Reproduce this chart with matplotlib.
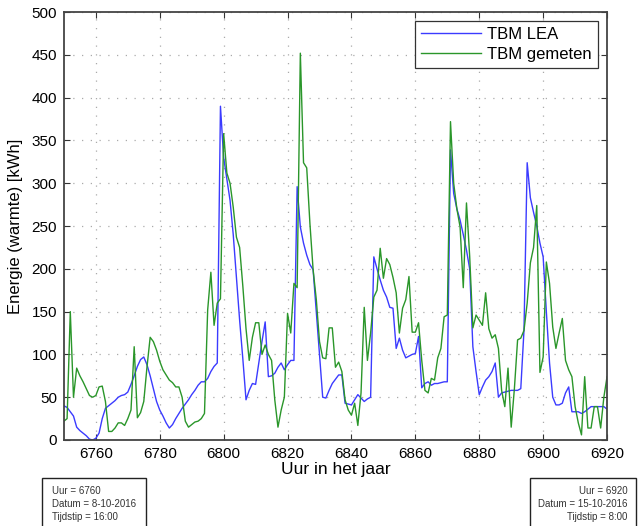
import numpy as np
import matplotlib
matplotlib.use("Agg")
import matplotlib.pyplot as plt
from matplotlib.patches import Rectangle

plt.rcParams['font.family'] = ['Liberation Sans', 'DejaVu Sans']

# uurwaarden, uur 6750 t/m 6920
uren = np.arange(6750, 6921)

tbm_lea = [
    40, 38, 33, 28, 15, 11, 8, 5, 1, 0,            # 6750-6759
    2, 8, 25, 37, 40, 43, 46, 50, 52, 53,          # 6760-6769
    56, 65, 75, 86, 94, 97, 88, 75, 60, 45,        # 6770-6779
    35, 28, 20, 14, 18, 25, 31, 37, 42, 47,        # 6780-6789
    53, 58, 64, 68, 68, 72, 80, 86, 90, 390,       # 6790-6799
    330, 305, 280, 240, 190, 140, 95, 47, 58, 66,  # 6800-6809
    65, 90, 115, 138, 74, 75, 78, 85, 90, 82,      # 6810-6819
    88, 93, 93, 296, 249, 230, 216, 205, 199, 150, # 6820-6829
    100, 50, 49, 58, 66, 71, 76, 76, 43, 42,       # 6830-6839
    41, 47, 53, 49, 45, 48, 50, 214, 200, 187,     # 6840-6849
    175, 167, 155, 154, 107, 119, 105, 96, 98, 100, # 6850-6859
    101, 121, 61, 66, 68, 64, 66, 66, 67, 68,      # 6860-6869
    68, 339, 288, 270, 257, 240, 222, 200, 109, 80, # 6870-6879
    53, 62, 70, 74, 80, 90, 50, 55, 56, 57,        # 6880-6889
    58, 58, 58, 60, 128, 324, 283, 266, 250, 230,  # 6890-6899
    214, 150, 90, 50, 41, 41, 43, 55, 62, 33,      # 6900-6909
    33, 33, 31, 33, 36, 39, 39, 39, 39, 39,        # 6910-6919
    36,                                            # 6920
]

tbm_gemeten = [
    22, 25, 150, 50, 84, 75, 68, 60, 52, 50,       # 6750-6759
    52, 62, 63, 45, 10, 10, 14, 20, 20, 17,        # 6760-6769
    25, 35, 109, 26, 32, 45, 85, 120, 115, 105,    # 6770-6779
    92, 82, 76, 70, 67, 62, 62, 50, 22, 15,        # 6780-6789
    18, 21, 22, 25, 31, 152, 196, 134, 160, 165,   # 6790-6799
    358, 312, 300, 272, 237, 225, 180, 130, 93, 120, # 6800-6809
    137, 137, 100, 111, 100, 93, 47, 15, 35, 50,   # 6810-6819
    148, 125, 183, 178, 452, 324, 318, 253, 199, 164, # 6820-6829
    115, 96, 95, 131, 131, 85, 91, 80, 47, 35,     # 6830-6839
    29, 43, 17, 55, 155, 93, 125, 167, 175, 224,   # 6840-6849
    189, 212, 205, 190, 172, 125, 154, 164, 191, 126, # 6850-6859
    126, 137, 93, 58, 55, 72, 70, 96, 107, 144,    # 6860-6869
    146, 372, 300, 270, 249, 178, 277, 215, 131, 146, # 6870-6879
    140, 134, 172, 130, 119, 123, 107, 58, 39, 84, # 6880-6889
    15, 60, 117, 119, 128, 160, 207, 225, 274, 79, # 6890-6899
    97, 208, 183, 132, 107, 125, 142, 93, 82, 74,  # 6900-6909
    39, 20, 6, 74, 14, 14, 39, 39, 14, 50,         # 6910-6919
    74,                                            # 6920
]

xticks = [6760, 6780, 6800, 6820, 6840, 6860, 6880, 6900, 6920]
yticks = [0, 50, 100, 150, 200, 250, 300, 350, 400, 450, 500]

begin_info = ["Uur = 6760", "Datum = 8-10-2016", "Tijdstip = 16:00"]
eind_info = ["Uur = 6920", "Datum = 15-10-2016", "Tijdstip = 8:00"]

fig = plt.figure(figsize=(6.39, 5.26), dpi=100)
ax = fig.add_axes([0.100, 0.1635, 0.850, 0.8135])

ax.plot(uren, tbm_lea, color='#3b3bff', lw=1.0, label='TBM LEA')
ax.plot(uren, tbm_gemeten, color='#2a962a', lw=1.0, label='TBM gemeten')

ax.set_xlim(6750, 6920)
ax.set_ylim(0, 500)
ax.set_xticks(xticks)
ax.set_yticks(yticks)
ax.tick_params(direction='in', top=True, right=True, labelsize=11,
               length=4, width=0.8, color='#333333', pad=5)
for s in ax.spines.values():
    s.set_color('#444444')
    s.set_linewidth(1.3)
ax.grid(True, linestyle=(0, (1, 6)), color='#aaaaaa', lw=0.9)

ax.set_xlabel('Uur in het jaar', fontsize=12.5, labelpad=1)
ax.set_ylabel('Energie (warmte) [kWh]', fontsize=12, labelpad=6)

leg = ax.legend(loc='upper right', fontsize=12, handlelength=3.6,
                fancybox=False, framealpha=1, edgecolor='#333333',
                borderpad=0.35, labelspacing=0.3, handletextpad=0.4,
                borderaxespad=0.55)
leg.get_frame().set_linewidth(0.9)

# kaders met begin- en eindtijdstip onder de grafiek
fig.patches.append(Rectangle((0.066, -0.05), 0.163, 0.141, transform=fig.transFigure,
                             fill=False, edgecolor='#222222', lw=1.0, figure=fig))
fig.patches.append(Rectangle((0.829, -0.05), 0.166, 0.141, transform=fig.transFigure,
                             fill=False, edgecolor='#222222', lw=1.0, figure=fig))
for i, regel in enumerate(begin_info):
    fig.text(0.082, 0.066 - i * 0.024, regel, fontsize=7, color='#333333', va='center')
for i, regel in enumerate(eind_info):
    fig.text(0.982, 0.066 - i * 0.024, regel, fontsize=7, color='#333333',
             va='center', ha='right')

fig.savefig('out.png', dpi=100)
